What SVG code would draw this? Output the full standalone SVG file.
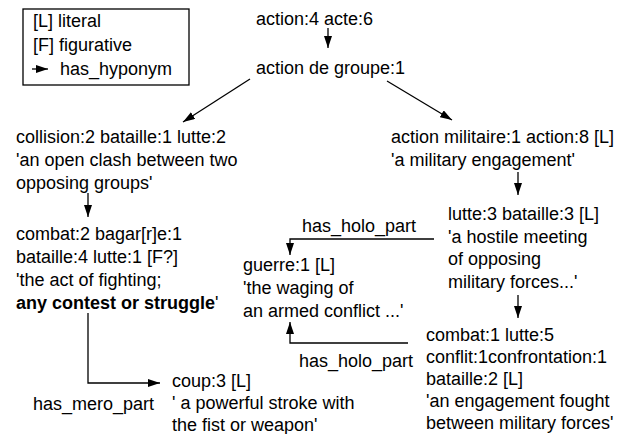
<svg xmlns="http://www.w3.org/2000/svg" width="623" height="434" viewBox="0 0 623 434">
<style>
text { font-family: "Liberation Sans", Arial, sans-serif; font-size: 18px; fill: #000; }
.c { stroke: #000; stroke-width: 1.3; fill: none; marker-end: url(#ah); }
.b { font-weight: bold; }
</style>
<defs>
<marker id="ah" viewBox="0 0 12 8" refX="12" refY="4" markerWidth="12" markerHeight="8" markerUnits="userSpaceOnUse" orient="auto">
<path d="M0,0 L12,4 L0,8 z" fill="#000"/>
</marker>
</defs>
<g id="legend">
<rect x="23" y="9" width="166" height="76" fill="#fff" stroke="#000" stroke-width="1.3"/>
<text x="33" y="27">[L] literal</text>
<text x="33" y="51">[F] figurative</text>
<line class="c" x1="32" y1="69" x2="48" y2="69"/>
<text x="60" y="75">has_hyponym</text>
</g>
<g id="connectors">
<line class="c" x1="328" y1="28" x2="328" y2="48"/>
<line class="c" x1="250" y1="79" x2="183" y2="122"/>
<line class="c" x1="387" y1="81" x2="452" y2="120"/>
<line class="c" x1="88" y1="193" x2="88" y2="217"/>
<line class="c" x1="518" y1="172" x2="518" y2="195"/>
<line class="c" x1="518" y1="295" x2="518" y2="318"/>
<polyline class="c" points="88,313 88,383 160,383"/>
<polyline class="c" points="434,239 290,239 290,255"/>
<polyline class="c" points="408,343 290,343 290,322"/>
<text x="302" y="232">has_holo_part</text>
<text x="299" y="367">has_holo_part</text>
<text x="33" y="410">has_mero_part</text>
</g>
<g id="n-action"><text x="256" y="25">action:4 acte:6</text></g>
<g id="n-action-de-groupe"><text x="256" y="74">action de groupe:1</text></g>
<g id="n-collision"><text x="16" y="143">collision:2 bataille:1 lutte:2<tspan x="16" dy="23">'an open clash between two</tspan><tspan x="16" dy="23">opposing groups'</tspan></text></g>
<g id="n-combat2"><text x="16" y="240">combat:2 bagar[r]e:1<tspan x="16" dy="23">bataille:4 lutte:1 [F?]</tspan><tspan x="16" dy="23">'the act of fighting;</tspan><tspan x="16" dy="23"><tspan class="b">any contest or struggle</tspan>'</tspan></text></g>
<g id="n-coup"><text x="172" y="387">coup:3 [L]<tspan x="172" dy="22">' a powerful stroke with</tspan><tspan x="172" dy="21.5">the fist or weapon'</tspan></text></g>
<g id="n-action-militaire"><text x="391" y="143">action militaire:1 action:8 [L]<tspan x="391" dy="23">'a military engagement'</tspan></text></g>
<g id="n-lutte3"><text x="448" y="220">lutte:3 bataille:3 [L]<tspan x="448" dy="22.5">'a hostile meeting</tspan><tspan x="448" dy="22.5">of opposing</tspan><tspan x="448" dy="22.5">military forces...'</tspan></text></g>
<g id="n-guerre"><text x="243" y="271">guerre:1 [L]<tspan x="243" dy="23">'the waging of</tspan><tspan x="243" dy="23">an armed conflict ...'</tspan></text></g>
<g id="n-combat1"><text x="426" y="341">combat:1 lutte:5<tspan x="426" dy="22">conflit:1confrontation:1</tspan><tspan x="426" dy="22">bataille:2 [L]</tspan><tspan x="426" dy="22">'an engagement fought</tspan><tspan x="426" dy="22">between military forces'</tspan></text></g>
</svg>
